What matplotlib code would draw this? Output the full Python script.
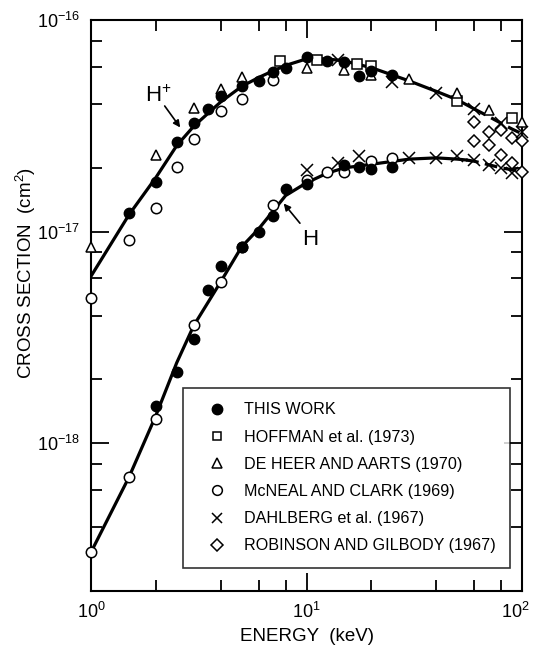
import matplotlib
matplotlib.use("Agg")
import matplotlib.pyplot as plt
import matplotlib.transforms as mtransforms
from matplotlib.lines import Line2D

plt.rcParams['font.family'] = ['Liberation Sans', 'DejaVu Sans']
plt.rcParams['mathtext.default'] = 'regular'

# ---------------- data ----------------
# THIS WORK (filled circles)
tw_hp_x = [1.5, 2, 2.5, 3, 3.5, 4, 5, 6, 7, 8, 10, 12.5, 15, 17.5, 20, 25]
tw_hp_y = [1.23e-17, 1.72e-17, 2.65e-17, 3.26e-17, 3.80e-17, 4.38e-17, 4.88e-17, 5.17e-17,
           5.65e-17, 5.94e-17, 6.71e-17, 6.43e-17, 6.36e-17, 5.44e-17, 5.75e-17, 5.50e-17]
tw_h_x = [2, 2.5, 3, 3.5, 4, 5, 6, 7, 8, 10, 15, 17.5, 20, 25]
tw_h_y = [1.50e-18, 2.17e-18, 3.09e-18, 5.32e-18, 6.91e-18, 8.47e-18, 1.00e-17, 1.19e-17,
          1.59e-17, 1.67e-17, 2.07e-17, 2.02e-17, 1.98e-17, 2.02e-17]

# HOFFMAN et al. (1973) (squares), H+
hof_x = [7.5, 11.2, 17.2, 20, 50, 90]
hof_y = [6.43e-17, 6.48e-17, 6.20e-17, 6.07e-17, 4.12e-17, 3.44e-17]

# DE HEER AND AARTS (1970) (triangles), H+
dh_x = [1, 2, 3, 4, 5, 10, 15, 20, 30, 50, 70, 100]
dh_y = [8.43e-18, 2.31e-17, 3.83e-17, 4.71e-17, 5.37e-17, 5.92e-17, 5.81e-17, 5.50e-17,
        5.25e-17, 4.51e-17, 3.76e-17, 3.31e-17]

# McNEAL AND CLARK (1969) (open circles)
mc_hp_x = [1, 1.5, 2, 2.5, 3, 4, 5, 7]
mc_hp_y = [4.87e-18, 9.17e-18, 1.29e-17, 2.03e-17, 2.75e-17, 3.73e-17, 4.25e-17, 5.21e-17]
mc_h_x = [1, 1.5, 2, 3, 4, 5, 7, 10, 12.5, 15, 20, 25]
mc_h_y = [3.05e-19, 6.89e-19, 1.30e-18, 3.61e-18, 5.79e-18, 8.47e-18, 1.34e-17, 1.76e-17,
          1.92e-17, 1.92e-17, 2.15e-17, 2.23e-17]

# DAHLBERG et al. (1967) (crosses)
da_hp_x = [14, 25, 40, 60, 80, 100]
da_hp_y = [6.48e-17, 5.12e-17, 4.51e-17, 3.79e-17, 3.26e-17, 2.97e-17]
da_h_x = [10, 14, 17.5, 30, 40, 50, 60, 70, 80, 90]
da_h_y = [1.96e-17, 2.12e-17, 2.27e-17, 2.23e-17, 2.23e-17, 2.27e-17, 2.19e-17, 2.07e-17,
          2.00e-17, 1.89e-17]

# ROBINSON AND GILBODY (1967) (diamonds)
rg_hp_x = [60, 70, 80, 90, 100]
rg_hp_y = [3.31e-17, 2.97e-17, 3.03e-17, 2.77e-17, 2.67e-17]
rg_h_x = [60, 70, 80, 90, 100]
rg_h_y = [2.67e-17, 2.57e-17, 2.31e-17, 2.11e-17, 1.92e-17]

# fitted curves (solid part, dashed part)
fit_hp_x = [1, 1.5, 2, 2.5, 3, 4, 5, 6, 7, 8, 10, 12.5, 15, 20, 25, 30, 40, 50, 60]
fit_hp_y = [6.15e-18, 1.2e-17, 1.8e-17, 2.55e-17, 3.15e-17, 4.1e-17, 4.85e-17, 5.35e-17,
            5.75e-17, 6.1e-17, 6.55e-17, 6.55e-17, 6.4e-17, 5.95e-17, 5.5e-17, 5.15e-17,
            4.6e-17, 4.2e-17, 3.8e-17]
fit_hp_dx = [60, 70, 80, 90, 100]
fit_hp_dy = [3.8e-17, 3.5e-17, 3.25e-17, 3.05e-17, 2.9e-17]

fit_h_x = [1, 1.5, 2, 2.5, 3, 4, 5, 6, 7, 8, 10, 12.5, 15, 20, 30, 40, 50, 55]
fit_h_y = [3.05e-19, 6.9e-19, 1.35e-18, 2.4e-18, 3.6e-18, 5.79e-18, 8.47e-18, 1.03e-17,
           1.25e-17, 1.48e-17, 1.70e-17, 1.89e-17, 2.0e-17, 2.08e-17, 2.2e-17, 2.23e-17,
           2.2e-17, 2.18e-17]
fit_h_dx = [55, 60, 70, 80, 90, 100]
fit_h_dy = [2.18e-17, 2.15e-17, 2.07e-17, 2.0e-17, 1.96e-17, 1.92e-17]

legend_labels = ["THIS WORK", "HOFFMAN et al. (1973)", "DE HEER AND AARTS (1970)",
                 "McNEAL AND CLARK (1969)", "DAHLBERG et al. (1967)",
                 "ROBINSON AND GILBODY (1967)"]

# ---------------- figure ----------------
fig = plt.figure(figsize=(5.34, 6.49), dpi=100)
ax = fig.add_axes([91/534, 1 - 591/649, 431/534, 571/649])
ax.set_xscale('log')
ax.set_yscale('log')
ax.set_xlim(1, 100)
ax.set_ylim(2e-19, 1e-16)

lw = 2.3
ax.plot(fit_hp_x, fit_hp_y, color='black', lw=lw, zorder=2)
ax.plot(fit_hp_dx, fit_hp_dy, color='black', lw=lw, ls=(0, (4, 2)), zorder=2)
ax.plot(fit_h_x, fit_h_y, color='black', lw=lw, zorder=2)
ax.plot(fit_h_dx, fit_h_dy, color='black', lw=lw, ls=(0, (4, 2)), zorder=2)

ms = 7.5
open_kw = dict(ls='none', mfc='white', mec='black', mew=1.1, zorder=3, clip_on=False)
ax.plot(mc_hp_x, mc_hp_y, marker='o', ms=ms, **open_kw)
ax.plot(mc_h_x, mc_h_y, marker='o', ms=ms, **open_kw)
ax.plot(hof_x, hof_y, marker='s', ms=6.8, **open_kw)
ax.plot(dh_x, dh_y, marker='^', ms=7.8, **open_kw)
ax.plot(rg_hp_x, rg_hp_y, marker='D', ms=6.5, **open_kw)
ax.plot(rg_h_x, rg_h_y, marker='D', ms=6.5, **open_kw)
ax.plot(da_hp_x, da_hp_y, marker='x', ms=8, ls='none', color='black', mew=1.1, zorder=4, clip_on=False)
ax.plot(da_h_x, da_h_y, marker='x', ms=8, ls='none', color='black', mew=1.1, zorder=4, clip_on=False)
ax.plot(tw_hp_x, tw_hp_y, marker='o', ms=ms, ls='none', color='black', zorder=5)
ax.plot(tw_h_x, tw_h_y, marker='o', ms=ms, ls='none', color='black', zorder=5)

# annotations
ax.annotate('', xy=(2.64, 3.03e-17), xytext=(2.16, 4.02e-17),
            arrowprops=dict(arrowstyle='-|>', color='black', lw=1.2, mutation_scale=10))
ax.text(2.05, 4.35e-17, 'H$^{+}$', fontsize=16, ha='center', va='center')
ax.annotate('', xy=(7.69, 1.39e-17), xytext=(9.5, 1.07e-17),
            arrowprops=dict(arrowstyle='-|>', color='black', lw=1.2, mutation_scale=10))
ax.text(10.4, 9.2e-18, 'H', fontsize=16, ha='center', va='center')

# ticks
ax.set_xticks([1, 10, 100])
ax.set_xticklabels(['$10^{0}$', '$10^{1}$', '$10^{2}$'])
ax.set_yticks([1e-18, 1e-17, 1e-16])
ax.set_yticklabels(['$10^{-18}$', '$10^{-17}$', '$10^{-16}$'])
ax.set_xticks([2, 4, 6, 8, 20, 40, 60, 80], minor=True)
ax.set_yticks([4e-19, 6e-19, 8e-19, 2e-18, 4e-18, 6e-18, 8e-18,
               2e-17, 4e-17, 6e-17, 8e-17], minor=True)
ax.tick_params(which='both', direction='in', top=True, right=True, width=1.3)
ax.tick_params(which='major', length=13, labelsize=13, pad=8)
ax.tick_params(which='minor', length=8, labelleft=False, labelbottom=False)
for s in ax.spines.values():
    s.set_linewidth(1.5)
# keep the last x tick label inside the canvas
last = ax.get_xticklabels()[-1]
last.set_transform(last.get_transform() +
                   mtransforms.ScaledTranslation(-7/100, 0, fig.dpi_scale_trans))

ax.set_xlabel('ENERGY  (keV)', fontsize=13.5, labelpad=4)
fig.text(26/534, 1 - 273/649, 'CROSS SECTION  (cm$^{2}$)', fontsize=13.5,
         rotation=90, ha='center', va='center')

# legend
handles = [
    Line2D([], [], marker='o', ls='none', color='black', ms=7.5),
    Line2D([], [], marker='s', ls='none', mfc='white', mec='black', ms=6, mew=1.1),
    Line2D([], [], marker='^', ls='none', mfc='white', mec='black', ms=7, mew=1.1),
    Line2D([], [], marker='o', ls='none', mfc='white', mec='black', ms=7, mew=1.1),
    Line2D([], [], marker='x', ls='none', color='black', ms=7, mew=1.1),
    Line2D([], [], marker='D', ls='none', mfc='white', mec='black', ms=6, mew=1.1),
]
leg = ax.legend(handles, legend_labels, loc='lower left',
                bbox_to_anchor=(0.2135, 0.0403), fontsize=11.6, frameon=True,
                fancybox=False, edgecolor='black', labelspacing=0.76,
                handletextpad=0.5, borderpad=0.9, handlelength=2.4, borderaxespad=0)
leg.get_frame().set_linewidth(1.2)

fig.savefig('out.png', dpi=100)
